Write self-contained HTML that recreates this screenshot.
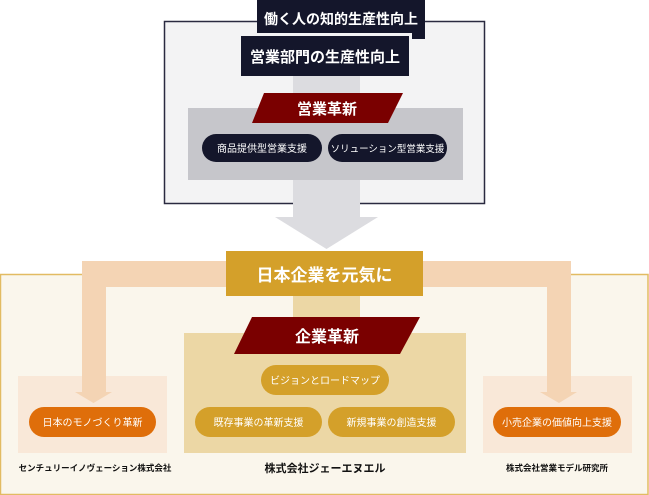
<!DOCTYPE html>
<html><head><meta charset="utf-8"><style>
html,body{margin:0;padding:0;background:#fff;}
svg{display:block;}
text{font-family:"Liberation Sans","Noto Sans CJK JP",sans-serif;font-weight:bold;}
text.n{font-weight:normal;}
</style></head><body>
<svg width="649" height="495" viewBox="0 0 649 495" xmlns="http://www.w3.org/2000/svg">
<rect x="164.5" y="21.5" width="320" height="182" fill="#f3f3f4" stroke="#2a2a40" stroke-width="1.5"/>
<rect x="293" y="76" width="67" height="142" fill="#dcdce0"/>
<polygon points="275,217 378,217 326.5,249" fill="#dcdce0"/>
<rect x="188" y="108" width="275" height="72" fill="#c6c6cb"/>
<rect x="257" y="0" width="168" height="33" fill="#14162b"/>
<rect x="412" y="0" width="13" height="39" fill="#14162b"/>
<text x="341" y="24" font-size="14" fill="#fff" text-anchor="middle">働く人の知的生産性向上</text>
<rect x="241" y="36" width="168" height="40" fill="#14162b"/>
<text x="325" y="62" font-size="15" fill="#fff" text-anchor="middle">営業部門の生産性向上</text>
<polygon points="264,93 403,93 388,123 252,123" fill="#7a0000"/>
<text x="327" y="114" font-size="15" fill="#fff" text-anchor="middle">営業革新</text>
<rect x="202" y="134" width="120" height="28" rx="14" fill="#14162b"/>
<text class="n" x="262" y="152" font-size="10" fill="#fff" text-anchor="middle">商品提供型営業支援</text>
<rect x="328" y="134" width="119" height="28" rx="14" fill="#14162b"/>
<text class="n" x="387.5" y="152" font-size="9.5" fill="#fff" text-anchor="middle">ソリューション型営業支援</text>

<rect x="0.5" y="274.5" width="647.5" height="220" fill="#faf6ec" stroke="#e2bb62" stroke-width="1.5"/>
<rect x="18" y="376" width="149" height="77" fill="#f9e8d8"/>
<rect x="483" y="376" width="149" height="77" fill="#f9e8d8"/>
<rect x="82" y="261" width="145" height="26" fill="#f4d4b4"/>
<rect x="82" y="261" width="24" height="131" fill="#f4d4b4"/>
<polygon points="75,392 112,392 93.5,403" fill="#f4d4b4"/>
<rect x="423" y="261" width="148" height="26" fill="#f4d4b4"/>
<rect x="547" y="261" width="24" height="131" fill="#f4d4b4"/>
<polygon points="540,392 577,392 559,403" fill="#f4d4b4"/>
<rect x="293" y="296" width="67" height="40" fill="#ecd7a5"/>
<rect x="184" y="333" width="282" height="120" fill="#ecd7a5"/>
<rect x="226" y="251" width="197" height="45" fill="#d4a02a"/>
<text x="324.5" y="281" font-size="17" fill="#fff" text-anchor="middle">日本企業を元気に</text>
<polygon points="252,317 420,317 400,354 234,354" fill="#7a0000"/>
<text x="327" y="342" font-size="16" fill="#fff" text-anchor="middle">企業革新</text>
<rect x="261" y="365" width="128" height="30" rx="15" fill="#d4a02a"/>
<text class="n" x="325" y="384" font-size="10" fill="#fff" text-anchor="middle">ビジョンとロードマップ</text>
<rect x="195" y="407" width="127" height="30" rx="15" fill="#d4a02a"/>
<text class="n" x="258.5" y="426" font-size="10" fill="#fff" text-anchor="middle">既存事業の革新支援</text>
<rect x="328" y="407" width="127" height="30" rx="15" fill="#d4a02a"/>
<text class="n" x="391.5" y="426" font-size="10" fill="#fff" text-anchor="middle">新規事業の創造支援</text>
<rect x="29" y="407" width="127" height="30" rx="15" fill="#df6e0a"/>
<text class="n" x="92.5" y="426" font-size="10" fill="#fff" text-anchor="middle">日本のモノづくり革新</text>
<rect x="493" y="407" width="128" height="30" rx="15" fill="#df6e0a"/>
<text class="n" x="557" y="426" font-size="10" fill="#fff" text-anchor="middle">小売企業の価値向上支援</text>
<text x="95" y="471" font-size="8.5" fill="#111" text-anchor="middle">センチュリーイノヴェーション株式会社</text>
<text x="325" y="472" font-size="11" fill="#111" text-anchor="middle">株式会社ジェーエヌエル</text>
<text x="557" y="471" font-size="8.5" fill="#111" text-anchor="middle">株式会社営業モデル研究所</text>
</svg>
</body></html>
